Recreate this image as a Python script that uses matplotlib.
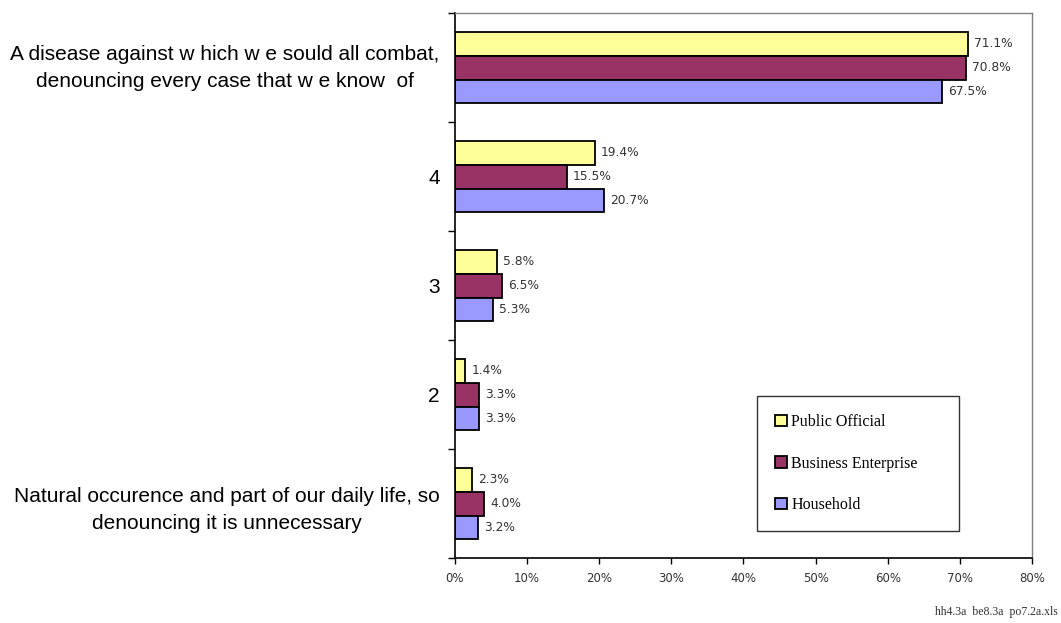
import numpy as np
from matplotlib import pyplot as plt
from matplotlib.ticker import FixedLocator, PercentFormatter
from matplotlib.transforms import ScaledTranslation

# categories, bottom to top
categories = ["Natural occurence and part of our daily life, so\ndenouncing it is unnecessary",
              "2", "3", "4",
              "A disease against w hich w e sould all combat,\ndenouncing every case that w e know  of"]
public_official = [2.3, 1.4, 5.8, 19.4, 71.1]
business_enterprise = [4.0, 3.3, 6.5, 15.5, 70.8]
household = [3.2, 3.3, 5.3, 20.7, 67.5]
series_names = ["Public Official", "Business Enterprise", "Household"]
x_ticks = [0, 10, 20, 30, 40, 50, 60, 70, 80]

colors = ["#FFFF99", "#993366", "#9999FF"]

fig = plt.figure(figsize=(10.61, 6.23), dpi=100)
ax = fig.add_axes([0.4288, 0.1043, 0.5438, 0.8748])

y = np.arange(len(categories))
h = 0.22
all_series = [public_official, business_enterprise, household]
offsets = [h, 0, -h]
for vals, off, col, name in zip(all_series, offsets, colors, series_names):
    ax.barh(y + off, vals, height=h, color=col, edgecolor="black", linewidth=1.3, label=name)
    # data labels to the right of each bar
    for yi, v in zip(y, vals):
        ax.annotate(f"{v:.1f}%", (v, yi + off), xytext=(4.5, 0), textcoords="offset points",
                    va="center", ha="left", fontsize=8.8, color="#333333", family="DejaVu Sans")

ax.set_xlim(0, 80)
ax.set_ylim(-0.5, len(categories) - 0.5)
ax.set_xticks(x_ticks)
ax.xaxis.set_major_formatter(PercentFormatter(decimals=0))
ax.tick_params(axis="x", labelsize=8.5, length=4, width=1, pad=6, colors="black", labelcolor="#333333")

ax.set_yticks(y)
ax.set_yticklabels(categories, fontsize=15, family="Liberation Sans", ha="right",
                   multialignment="center", linespacing=1.55)
ax.tick_params(axis="y", length=0, pad=11)
ax.yaxis.set_minor_locator(FixedLocator(np.arange(-0.5, len(categories), 1.0)))
ax.tick_params(axis="y", which="minor", length=5, width=1)

# top label sits a little higher in the original
top_lbl = ax.yaxis.get_major_ticks()[-1].label1
top_lbl.set_transform(top_lbl.get_transform() + ScaledTranslation(0, 6 / 100, fig.dpi_scale_trans))

for s in ["left", "bottom"]:
    ax.spines[s].set_color("black")
    ax.spines[s].set_linewidth(1.2)
for s in ["top", "right"]:
    ax.spines[s].set_color("#808080")
    ax.spines[s].set_linewidth(1)

leg = ax.legend(loc="lower left", bbox_to_anchor=(0.523, 0.0495, 0.35, 0.2425), mode="expand",
                prop={"family": "Liberation Serif", "size": 11.5}, frameon=True, fancybox=False,
                handlelength=0.75, handleheight=0.75, handletextpad=0.3, labelspacing=1.6,
                borderaxespad=0, borderpad=1.12)
leg.get_frame().set_edgecolor("black")
leg.get_frame().set_linewidth(1)

fig.text(0.997, 0.008, "hh4.3a  be8.3a  po7.2a.xls", ha="right", va="bottom",
         fontsize=8.5, family="Liberation Serif", color="#333333")

fig.savefig("out.png", dpi=100)
